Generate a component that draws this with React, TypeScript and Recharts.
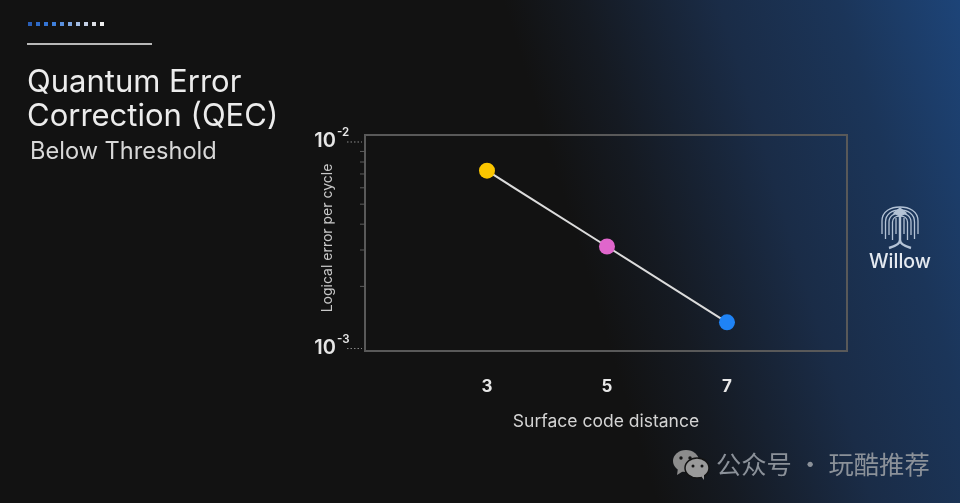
import React from "react";
import { LineChart, Line, XAxis, YAxis, ReferenceArea } from "recharts";

const distances = [3, 5, 7];
const errors = [0.00726, 0.00312, 0.00134];
const dotColors = ["#fbc600", "#e066cc", "#1f83f5"];
const xTicks = [3, 5, 7];
const yTicks = [0.001, 0.002, 0.003, 0.004, 0.005, 0.006, 0.007, 0.008, 0.009, 0.01];
const majorExp: Record<string, string> = { "0.001": "-3", "0.01": "-2" };
const headerDots = ["#2a5fb8", "#2f6bc8", "#3474d4", "#3f80dc", "#5a90de", "#7fa6e0", "#a3bce2", "#c4cfe4", "#dde0e6", "#eeeeee"];
const xDomain: [number, number] = [0.967, 9];
const yDomain: [number, number] = [0.000973, 0.01081];

const rows = distances.map((d, i) => ({ d, err: errors[i] }));
const FONT = "Inter, 'Noto Sans', sans-serif";

const YTick = (p: any) => {
  const { x, y, payload } = p;
  const exp = majorExp[String(payload.value)];
  if (exp) {
    return (
      <g>
        <line x1={x - 10} x2={x + 5} y1={y} y2={y} stroke="#8a8a8a" strokeWidth={1} strokeDasharray="1.5 2" />
        <text x={x - 21} y={y + 5} textAnchor="end" fill="#e6e6e6" fontSize={20} fontWeight={600} fontFamily={FONT}>10</text>
        <text x={x - 20} y={y - 6} textAnchor="start" fill="#e6e6e6" fontSize={11.5} fontWeight={600} fontFamily={FONT}>{exp}</text>
      </g>
    );
  }
  return <line x1={x + 3} x2={x + 8} y1={y} y2={y} stroke="#5c5c5c" strokeWidth={1} />;
};

const XTick = (p: any) => (
  <text x={p.x} y={p.y + 33} textAnchor="middle" fill="#e8e8e8" fontSize={17} fontWeight={700} fontFamily={FONT}>
    {p.payload.value}
  </text>
);

const Dot = (p: any) => (
  <circle key={p.index} cx={p.cx} cy={p.cy} r={8} fill={dotColors[p.index]} />
);

const Willow = () => (
  <svg width={44} height={46} viewBox="0 0 44 46" style={{ position: "absolute", left: 878, top: 204 }} fill="none" stroke="#b4c3d6" strokeWidth={1.3}>
    <path d="M4 30 V17 C4 7 13 3 22 3 C31 3 40 7 40 17 V30" />
    <path d="M7.5 35 V18 C7.5 10 14 6 22 6 C30 6 36.5 10 36.5 18 V35" />
    <path d="M11 31 V18 C11 12 16 9 22 9 C28 9 33 12 33 18 V31" />
    <path d="M14.5 36 V18 C14.5 14 18 12 22 12 C26 12 29.5 14 29.5 18 V36" />
    <path d="M18 14 V30 M26 14 V30" />
    <path d="M22 12 V36 C22 40 18 42 11 44 M22 36 C22 40 26 42 33 44" strokeWidth={2.4} />
    <path d="M16 9 L22 4 L28 9 L22 12 Z" fill="#b4c3d6" />
  </svg>
);

const WeChat = () => (
  <svg width={38} height={32} viewBox="0 0 38 32" style={{ position: "absolute", left: 672, top: 449 }}>
    <ellipse cx={14} cy={12} rx={13} ry={11} fill="#8c8c8c" />
    <path d="M6 19 L5 26 L13 21 Z" fill="#8c8c8c" />
    <ellipse cx={25} cy={19} rx={12} ry={10} fill="#9a9a9a" stroke="#141414" strokeWidth={1.5} />
    <path d="M29 27 L32 31 L32 25 Z" fill="#9a9a9a" />
    <circle cx={9} cy={9} r={1.7} fill="#141414" />
    <circle cx={18} cy={9} r={1.7} fill="#141414" />
    <circle cx={21} cy={17} r={1.5} fill="#141414" />
    <circle cx={30} cy={17} r={1.5} fill="#141414" />
  </svg>
);

const abs = (left: number, top: number, size: number, color: string, weight = 400): React.CSSProperties => ({
  position: "absolute", left, top, fontSize: size, color, fontWeight: weight, fontFamily: FONT, whiteSpace: "nowrap", lineHeight: 1,
});

export default function App() {
  return (
    <div style={{
      position: "fixed", left: 0, top: 0, width: 960, height: 503, overflow: "hidden",
      background: "linear-gradient(73deg, #121212 0%, #121212 59%, #151a22 66%, #1a2c47 78.4%, #1b3559 89%, #1d4478 100%)",
    }}>
      <div style={{ position: "absolute", left: 0, top: 0, width: 960, height: 503, filter: "blur(0.6px)" }}>
        {headerDots.map((c, i) => (
          <div key={i} style={{ position: "absolute", left: 27.5 + i * 8.07, top: 21.5, width: 4, height: 4, background: c }} />
        ))}
        <div style={{ position: "absolute", left: 27, top: 42.5, width: 125, height: 2, background: "#b8b8b8" }} />
        <div style={abs(27, 65, 31, "#ececec")}>Quantum Error</div>
        <div style={abs(27, 99, 31, "#ececec")}>Correction (QEC)</div>
        <div style={abs(30, 139, 23.6, "#d8d8d8")}>Below Threshold</div>

        <LineChart
          width={960}
          height={503}
          data={rows}
          margin={{ top: 135, right: 113, bottom: 92, left: 305 }}
          style={{ position: "absolute", left: 0, top: 0 }}
        >
          <XAxis
            dataKey="d"
            type="number"
            domain={xDomain}
            ticks={xTicks}
            tick={<XTick />}
            tickLine={false}
            axisLine={false}
            height={60}
            allowDataOverflow
            label={{ value: "Surface code distance", position: "insideBottom", offset: -16, fill: "#d4d4d4", fontSize: 17.5, fontFamily: FONT }}
          />
          <YAxis
            type="number"
            scale="log"
            domain={yDomain}
            ticks={yTicks}
            interval={0}
            tick={<YTick />}
            tickLine={false}
            axisLine={false}
            width={60}
            allowDataOverflow
            label={{ value: "Logical error per cycle", angle: -90, position: "insideLeft", dx: 17, dy: -5, fill: "#c8c8c8", fontSize: 14, fontFamily: FONT, style: { textAnchor: "middle" } }}
          />
          <ReferenceArea x1={xDomain[0]} x2={xDomain[1]} y1={yDomain[0]} y2={yDomain[1]} fill="none" stroke="#595959" strokeWidth={2} ifOverflow="visible" />
          <Line dataKey="err" stroke="#dcdcdc" strokeWidth={2} dot={<Dot />} isAnimationActive={false} />
        </LineChart>

        <Willow />
        <div style={abs(869, 252, 19.5, "#e4e9f0", 500)}>Willow</div>
        <WeChat />
        <div style={{ ...abs(716, 451, 25.3, "#8b9199"), fontFamily: "'Noto Sans CJK SC', sans-serif" }}>公众号 · 玩酷推荐</div>
      </div>
    </div>
  );
}
